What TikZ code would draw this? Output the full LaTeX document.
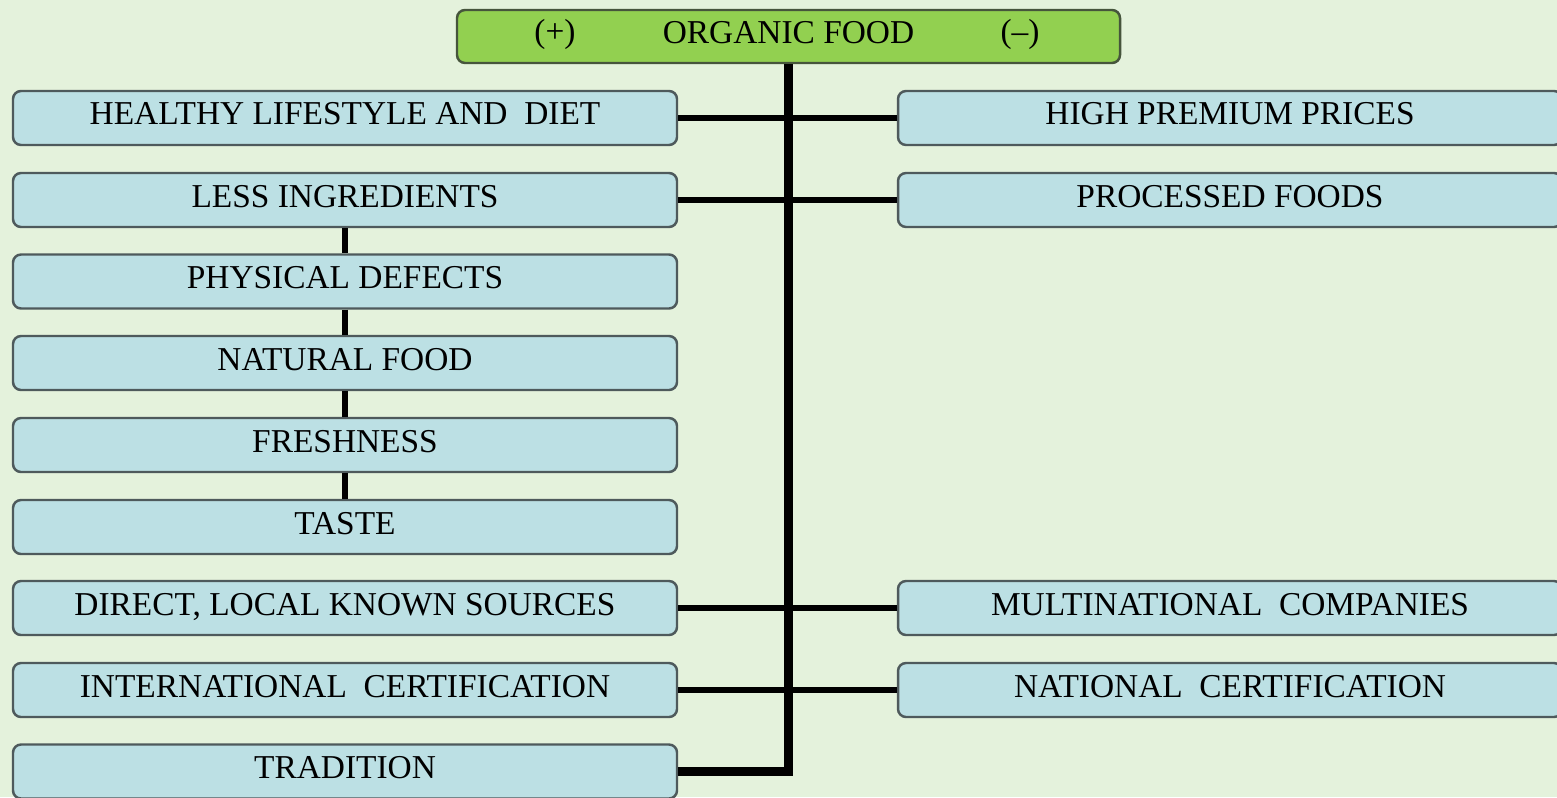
\documentclass[tikz,border=0pt]{standalone}
\usepackage{fontspec}
\setmainfont{Liberation Serif}
\definecolor{bgGreen}{HTML}{E4F2DC}
\definecolor{itemBlue}{HTML}{BCE0E4}
\definecolor{boxLine}{HTML}{4E5A5C}
\definecolor{rootGreen}{HTML}{92D050}
\definecolor{rootLine}{HTML}{46553C}
\tikzset{
  itemBox/.style={rectangle,rounded corners=0.8mm,draw=boxLine,line width=0.7pt,fill=itemBlue,
    minimum width=6.64cm,minimum height=0.54cm,inner sep=0pt,
    text height=0.25cm,text depth=0.11cm,font=\fontsize{9.5}{11}\selectfont},
  rootBox/.style={itemBox,fill=rootGreen,draw=rootLine,minimum width=6.63cm,minimum height=0.53cm},
  sign/.style={inner sep=0pt,font=\fontsize{9.5}{11}\selectfont},
  link/.style={line width=1.8pt},
  trunk/.style={line width=2.3pt}
}

\begin{document}
\begin{tikzpicture}
  \useasboundingbox (0,0) rectangle (15.57,-7.97);
  \clip (0,0) rectangle (15.57,-7.97);
  \fill[bgGreen] (0,0) rectangle (15.57,-7.97);

  \node[rootBox] (OF) at (7.885,-0.365) {ORGANIC FOOD};
  \node[sign] (plus) at (5.55,-0.34) {(+)};
  \node[sign] (minus) at (10.2,-0.34) {(--)};

  % positive side
  \node[itemBox] (L1) at (3.45,-1.18) {HEALTHY LIFESTYLE AND\ \ DIET};
  \node[itemBox] (L2) at (3.45,-2.00) {LESS INGREDIENTS};
  \node[itemBox] (L3) at (3.45,-2.815) {PHYSICAL DEFECTS};
  \node[itemBox] (L4) at (3.45,-3.63) {NATURAL FOOD};
  \node[itemBox] (L5) at (3.45,-4.45) {FRESHNESS};
  \node[itemBox] (L6) at (3.45,-5.27) {TASTE};
  \node[itemBox] (L7) at (3.45,-6.08) {DIRECT, LOCAL KNOWN SOURCES};
  \node[itemBox] (L8) at (3.45,-6.90) {INTERNATIONAL\ \ CERTIFICATION};
  \node[itemBox] (L9) at (3.45,-7.715) {TRADITION};

  % negative side
  \node[itemBox] (R1) at (12.30,-1.18) {HIGH PREMIUM PRICES};
  \node[itemBox] (R2) at (12.30,-2.00) {PROCESSED FOODS};
  \node[itemBox] (R7) at (12.30,-6.08) {MULTINATIONAL\ \ COMPANIES};
  \node[itemBox] (R8) at (12.30,-6.90) {NATIONAL\ \ CERTIFICATION};

  \draw[trunk] (OF.south) |- (L9.east);
  \foreach \i in {1,2,7,8}
      \draw[link] (L\i) -- (R\i);
  \foreach \a/\b in {2/3,3/4,4/5,5/6}
      \draw[link] (L\a) -- (L\b);
\end{tikzpicture}
\end{document}
